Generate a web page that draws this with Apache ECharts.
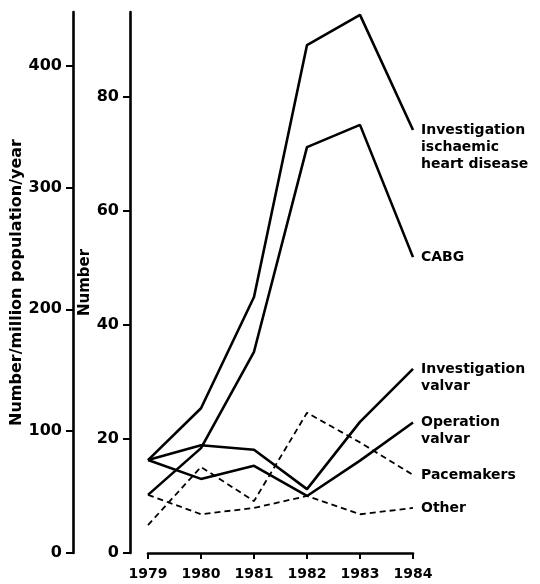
<!DOCTYPE html>
<html>
<head>
<meta charset="utf-8">
<script src="https://cdn.jsdelivr.net/npm/echarts@6/dist/echarts.min.js"></script>
<style>
  html, body { margin: 0; padding: 0; background: #fff; }
  #chart { width: 540px; height: 584px; }
</style>
</head>
<body>
<div id="chart"></div>
<script>
// years on the x axis
const years = ['1979', '1980', '1981', '1982', '1983', '1984'];

const ihdInvestigation = [16.3, 25.4, 44.9, 89.1, 94.4, 74.2];
const cabg = [10.2, 18.4, 35.3, 71.2, 75.1, 51.9];
const valvarInvestigation = [16.3, 18.9, 18.1, 11.2, 23.0, 32.3];
const valvarOperation = [16.3, 13.0, 15.3, 10.0, 16.2, 22.9];
const pacemakers = [4.9, 15.1, 9.1, 24.6, 19.4, 13.7];
const other = [10.2, 6.8, 7.9, 10.0, 6.8, 7.9];

// tick labels
const rateTicks = [0, 100, 200, 300, 400];
const numberTicks = [0, 20, 40, 60, 80];

const chart = echarts.init(document.getElementById('chart'));

const font = 'DejaVu Sans';
const ink = '#000';

// one line series per group, with its name written at the line end
function line(name, data, dashed, label, nLines) {
  return {
    name: name,
    type: 'line',
    yAxisIndex: 1,
    data: data,
    symbol: 'none',
    lineStyle: { color: ink, width: dashed ? 1.8 : 2.6, type: dashed ? [6, 4] : 'solid' },
    endLabel: {
      show: true,
      formatter: label,
      color: ink,
      fontFamily: font,
      fontWeight: 'bold',
      fontSize: 14,
      lineHeight: 17,
      align: 'left',
      distance: 8,
      offset: [0, (nLines - 1) * 17 / 2]
    }
  };
}

function yAxis(name, offset, max, ticks, gap, nameSize) {
  return {
    type: 'value',
    position: 'left',
    offset: offset,
    min: 0,
    max: max,
    name: name,
    nameLocation: 'middle',
    nameGap: gap,
    nameRotate: 90,
    nameTextStyle: { color: ink, fontFamily: font, fontWeight: 'bold', fontSize: nameSize },
    axisLine: { show: true, lineStyle: { color: ink, width: 2.6 } },
    axisTick: { show: true, length: 7, lineStyle: { color: ink, width: 2 }, customValues: ticks },
    axisLabel: {
      color: ink, fontFamily: font, fontWeight: 'bold', fontSize: 16, margin: 11,
      customValues: ticks
    },
    splitLine: { show: false }
  };
}

const options = {
  animation: false,
  backgroundColor: '#fff',
  grid: { left: 148, right: 127, top: 12, bottom: 31 },
  xAxis: {
    type: 'category',
    data: years,
    boundaryGap: false,
    axisLine: { lineStyle: { color: ink, width: 2.6 } },
    axisTick: { length: 6, lineStyle: { color: ink, width: 2 } },
    axisLabel: { color: ink, fontFamily: font, fontWeight: 'bold', fontSize: 14, margin: 14 }
  },
  yAxis: [
    yAxis('Number/million population/year', 75, 444, rateTicks, 45, 16),
    yAxis('Number', 18, 94.9, numberTicks, 32, 15)
  ],
  series: [
    line('IHD', ihdInvestigation, false, 'Investigation\nischaemic\nheart disease', 3),
    line('CABG', cabg, false, 'CABG', 1),
    line('InvValvar', valvarInvestigation, false, 'Investigation\nvalvar', 2),
    line('OpValvar', valvarOperation, false, 'Operation\nvalvar', 2),
    line('Pacemakers', pacemakers, true, 'Pacemakers', 1),
    line('Other', other, true, 'Other', 1)
  ]
};

chart.setOption(options);
</script>
</body>
</html>
